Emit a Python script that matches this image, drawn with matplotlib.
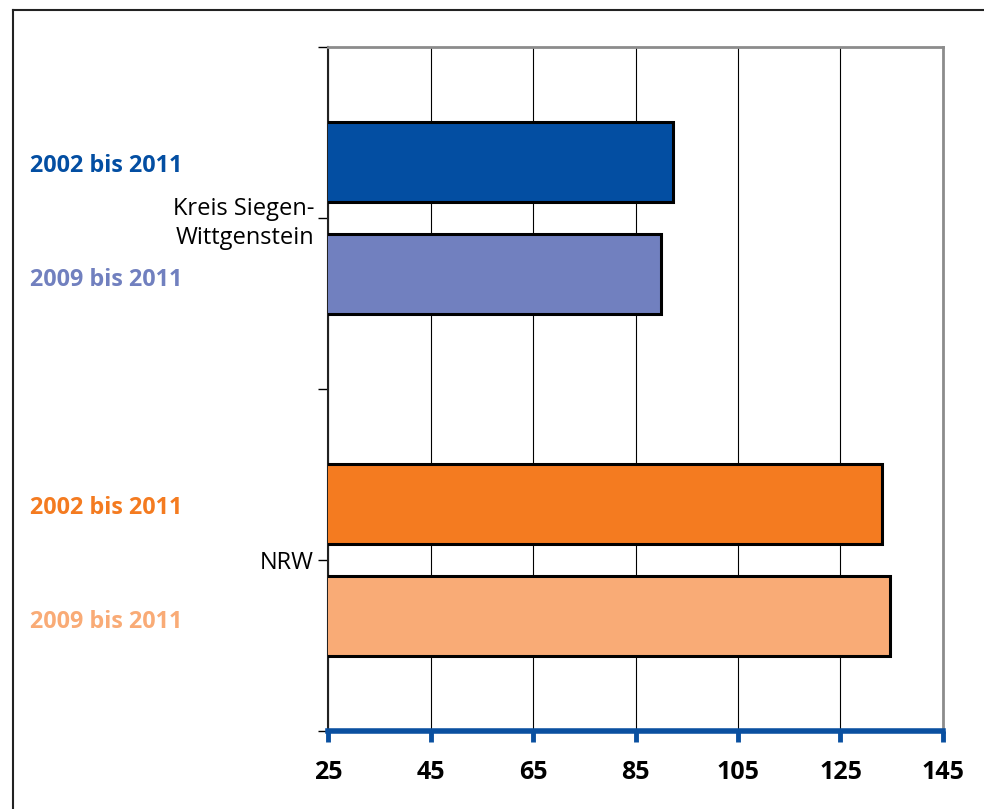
import numpy as np
import matplotlib
matplotlib.use('Agg')
import matplotlib.pyplot as plt
import matplotlib.transforms as mtransforms
from matplotlib.lines import Line2D

# Daten
regions = ['Kreis Siegen-\nWittgenstein', 'NRW']
periods = ['2002 bis 2011', '2009 bis 2011']
values = {
    'Kreis Siegen-\nWittgenstein': [92.3, 90.0],
    'NRW': [133.1, 134.7],
}
bar_colors = {
    'Kreis Siegen-\nWittgenstein': ['#034ea2', '#7180bf'],
    'NRW': ['#f47b20', '#f9ab76'],
}
x_ticks = [25, 45, 65, 85, 105, 125, 145]

plt.rcParams['font.family'] = ['Open Sans', 'DejaVu Sans']

fig = plt.figure(figsize=(9.84, 8.09), dpi=100)
ax = fig.add_axes([328/984, 1-731/809, 615/984, 684/809])

offset = 0.1625
h = 0.234
blend = mtransforms.blended_transform_factory(fig.transFigure, ax.transData)
for i, reg in enumerate(regions):
    yc = i + 0.5
    for j, per in enumerate(periods):
        y = yc - offset + 2*offset*j
        ax.barh(y, values[reg][j], height=h, color=bar_colors[reg][j],
                edgecolor='black', linewidth=2.2, zorder=3)
        ax.text(30/984, y + 0.01*(1+j), per, transform=blend, ha='left', va='center',
                color=bar_colors[reg][j], fontsize=16.8, fontweight='bold')

ax.set_xlim(25, 145)
ax.set_ylim(2, 0)
ax.set_xticks(x_ticks)
ax.set_xticklabels([str(t) for t in x_ticks], fontsize=18, fontweight='bold')
ax.set_yticks([0.5, 1.5])
ax.set_yticklabels(regions, fontsize=17, linespacing=1.3)
ax.set_yticks([0, 1, 2], minor=True)
ax.tick_params(axis='y', which='both', length=7, width=1, color='black', pad=3)
ax.tick_params(axis='x', length=8, width=3.5, color='#0a50a0', pad=13)

ax.grid(axis='x', color='black', linewidth=0.8)
ax.set_axisbelow(True)

ax.spines['bottom'].set_color('#0a50a0')
ax.spines['bottom'].set_linewidth(4)
ax.spines['bottom'].set_zorder(5)
ax.spines['left'].set_color('#222222')
ax.spines['left'].set_linewidth(1.5)
for s in ['top', 'right']:
    ax.spines[s].set_color('#8c8c8c')
    ax.spines[s].set_linewidth(2)

# Rahmen
fig.add_artist(Line2D([12.5/984, 12.5/984], [0, 1-9.5/809], color='#222222', linewidth=1.5))
fig.add_artist(Line2D([12.5/984, 1], [1-9.5/809, 1-9.5/809], color='#222222', linewidth=1.5))

fig.savefig('out.png', dpi=100)
